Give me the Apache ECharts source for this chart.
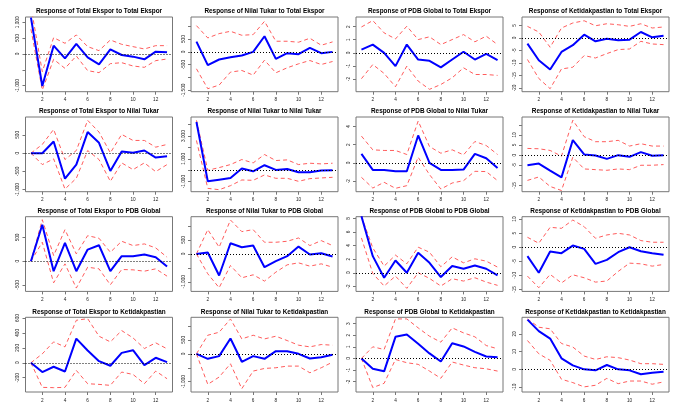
<!DOCTYPE html>
<html><head><meta charset="utf-8">
<script src="https://cdn.jsdelivr.net/npm/echarts@6/dist/echarts.min.js"></script>
<style>html,body{margin:0;padding:0;background:#fff}#c{width:688px;height:405px}</style>
</head><body><div id="c"></div>
<script>
const periods = [1,2,3,4,5,6,7,8,9,10,11,12,13];
const variables = ['Total Ekspor','Nilai Tukar','PDB Global','Ketidakpastian'];
const xTickValues = [2,4,6,8,10,12];

// Row 1: shock = Total Ekspor
const te_te    = [1150,-1010,263,-137,316,-105,-326,147,-32,-84,-168,74,53];
const te_te_hi = [1500,-558,515,337,600,232,105,442,305,232,158,263,263];
const te_te_lo = [780,-1137,-168,-453,-63,-526,-589,-305,-274,-379,-421,-210,-158];
const nt_te    = [403,-519,-299,-208,-143,0,610,-273,-52,-91,156,-52,0];
const nt_te_hi = [1026,545,714,805,649,675,1195,416,416,377,532,260,390];
const nt_te_lo = [-662,-1442,-1299,-792,-727,-909,-325,-818,-623,-468,-338,-494,-377];
const pdb_te    = [0.25,0.63,0,-1.01,0.63,-0.51,-0.61,-1.11,-0.51,0.08,-0.51,-0.08,-0.56];
const pdb_te_hi = [1.97,2.46,1.52,1.06,2.03,1.01,1.22,0.63,1.01,1.39,0.84,1.27,0.63];
const pdb_te_lo = [-1.97,-0.89,-1.57,-2.58,-1.01,-2.15,-2.78,-2.41,-1.9,-1.14,-1.65,-1.65,-1.72];
const ket_te    = [-2.26,-8.9,-12.6,-5.6,-2.9,1.33,-1.33,-0.27,-0.93,-0.66,2.4,0.27,0.93];
const ket_te_hi = [4.65,2.4,-3.7,4.0,6.0,6.9,4.9,5.7,5.3,4.65,5.7,4.0,4.4];
const ket_te_lo = [-8.6,-16.2,-20.3,-12.4,-11.7,-7.05,-8.0,-6.25,-4.65,-4.4,-1.33,-2.4,-2.66];

// Row 2: shock = Nilai Tukar
const te_nt    = [0,0,321,-697,-312,578,284,-486,46,9,73,-119,-83];
const te_nt_hi = [0,239,651,-174,73,899,578,9,514,349,349,165,239];
const te_nt_lo = [0,-312,-156,-982,-688,73,-174,-771,-266,-450,-266,-505,-312];
const nt_nt    = [4235,-970,-823,-676,147,-88,441,29,118,-176,-176,-29,0];
const nt_nt_hi = [4382,0,235,500,941,647,1382,853,912,500,618,559,618];
const nt_nt_lo = [2618,-1588,-1706,-1353,-853,-882,-412,-706,-706,-970,-735,-676,-618];
const pdb_nt    = [0.99,-0.77,-0.77,-0.92,-0.92,3.0,0,-0.77,-0.77,-0.73,0.99,0.51,-0.55];
const pdb_nt_hi = [2.93,1.43,1.36,1.36,0.92,4.58,1.79,1.06,1.43,0.88,2.34,1.9,0.92];
const pdb_nt_lo = [-1.58,-2.75,-2.12,-2.78,-2.49,0.62,-1.28,-2.86,-2.2,-1.94,-0.92,-0.95,-1.94];
const ket_nt    = [-5.0,-4.17,-7.67,-11.0,7.5,0.33,-0.17,-1.83,0,-0.83,1.5,-0.33,0];
const ket_nt_hi = [3.33,3.17,2.33,-0.5,17.3,9.17,6.67,6.67,7.33,4.5,5.67,4.5,4.5];
const ket_nt_lo = [-12.5,-10.8,-15.5,-17.5,-1.0,-6.83,-7.17,-7.5,-6.83,-7.17,-5.0,-5.0,-4.67];

// Row 3: shock = PDB Global
const te_pdb    = [0,769,-210,385,-210,245,336,-210,105,105,140,84,-112];
const te_pdb_hi = [0,874,119,664,154,538,483,189,420,329,364,280,84];
const te_pdb_lo = [0,399,-455,-56,-566,-126,-161,-497,-175,-182,-210,-161,-315];
const nt_pdb    = [0,48,-774,381,238,298,-476,-262,-83,262,-24,24,-95];
const nt_pdb_hi = [0,869,238,1214,798,869,417,417,452,571,298,476,298];
const nt_pdb_lo = [0,-714,-1214,-417,-857,-750,-976,-655,-393,-321,-440,-357,-476];
const pdb_pdb    = [8.3,2.44,-0.73,1.8,0,2.93,1.46,-0.63,0.98,0.59,1.07,0.59,-0.39];
const pdb_pdb_hi = [8.3,3.66,0.98,2.59,1.32,3.76,3.02,0.88,2.34,1.46,2.05,1.71,0.83];
const pdb_pdb_lo = [5.12,-0.1,-1.95,-0.49,-2.29,0,-0.83,-1.95,-0.88,-1.22,-0.73,-1.37,-1.85];
const ket_pdb    = [-3.18,-9.08,-1.53,-2.12,0.59,-0.59,-5.9,-4.48,-1.77,0,-1.42,-2.12,-2.71];
const ket_pdb_hi = [3.54,1.42,7.08,6.72,9.67,7.31,3.18,4.36,4.95,4.36,2.36,1.77,1.77];
const ket_pdb_lo = [-10.26,-14.4,-9.67,-12.7,-9.8,-10.85,-12.4,-12.0,-8.6,-5.66,-5.9,-6.72,-6.13];

// Row 4: shock = Ketidakpastian
const te_ket    = [0,-124,-53,-116,324,164,22,-40,133,169,-31,67,9];
const te_ket_hi = [0,120,280,213,569,591,356,280,431,333,191,267,187];
const te_ket_lo = [0,-329,-333,-329,-102,-280,-289,-302,-124,-156,-280,-111,-213];
const nt_ket    = [0,-179,-83,548,-286,-83,-179,95,95,0,-167,-119,-36];
const nt_ket_hi = [0,667,774,1250,536,667,536,631,476,310,250,333,310];
const nt_ket_lo = [0,-1095,-833,-357,-1250,-619,-524,-500,-440,-440,-679,-500,-298];
const pdb_ket    = [0,-0.89,-1.11,1.86,2.06,1.26,0.43,-0.26,1.31,1.03,0.57,0.17,0.11];
const pdb_ket_hi = [0,1.0,0.77,3.4,3.4,2.63,1.91,1.4,2.63,2.2,1.86,1.11,0.83];
const pdb_ket_lo = [0,-2.51,-2.14,-0.09,-0.37,-0.51,-1.09,-1.71,-0.31,-0.57,-0.8,-0.89,-1.09];
const ket_ket    = [28.1,21.6,17.4,6.2,2.25,0,-0.56,2.44,0,-0.56,-2.8,-1.9,-1.3];
const ket_ket_hi = [28.5,23.8,22.9,14.6,12.6,7.5,5.6,7.1,6.6,5.25,3.2,3.2,2.8];
const ket_ket_lo = [16.3,8.8,5.1,-5.6,-7.5,-9.9,-9.0,-5.1,-8.1,-6.6,-6.6,-8.4,-7.1];

// y-axis ranges, tick values and labelled ticks per panel (row-major)
const yRanges = [
  [-1190,1167],[-1558,1364],[-2.96,2.73],[-21.5,8.4],
  [-1055,991],[-1882,4676],[-3.15,5.02],[-18.1,18.9],
  [-636,937],[-1345,1333],[-2.74,8.24],[-15.7,10.85],
  [-391,609],[-1369,1310],[-2.89,3.54],[-12.8,29.4]
];
const yTickValues = [
  [-1000,-500,0,500,1000],[-1500,-1000,-500,0,500,1000],[-2,-1,0,1,2],[-20,-15,-10,-5,0,5],
  [-1000,-500,0,500],[-1000,0,1000,2000,3000,4000],[-2,0,2,4],[-15,-10,-5,0,5,10,15],
  [-500,0,500],[-1000,-500,0,500,1000],[-2,0,2,4,6,8],[-15,-10,-5,0,5,10],
  [-200,0,200,400,600],[-1000,-500,0,500,1000],[-2,-1,0,1,2,3],[-10,0,10,20]
];
const yTickLabels = [
  [-1000,0,500,1000],[-1500,-500,0,500],[-2,-1,0,1,2],[-20,-15,-10,-5,0,5],
  [-1000,-500,0,500],[-1000,1000,3000],[-2,0,2,4],[-15,-5,0,5,10],
  [-500,0,500],[-1000,0,500],[-2,0,2,4,6,8],[-15,-10,-5,0,5,10],
  [-200,0,200,400,600],[-1000,0,500],[-2,-1,0,1,2,3],[-10,0,10,20]
];

const responses = [
  [te_te,te_te_hi,te_te_lo],[nt_te,nt_te_hi,nt_te_lo],[pdb_te,pdb_te_hi,pdb_te_lo],[ket_te,ket_te_hi,ket_te_lo],
  [te_nt,te_nt_hi,te_nt_lo],[nt_nt,nt_nt_hi,nt_nt_lo],[pdb_nt,pdb_nt_hi,pdb_nt_lo],[ket_nt,ket_nt_hi,ket_nt_lo],
  [te_pdb,te_pdb_hi,te_pdb_lo],[nt_pdb,nt_pdb_hi,nt_pdb_lo],[pdb_pdb,pdb_pdb_hi,pdb_pdb_lo],[ket_pdb,ket_pdb_hi,ket_pdb_lo],
  [te_ket,te_ket_hi,te_ket_lo],[nt_ket,nt_ket_hi,nt_ket_lo],[pdb_ket,pdb_ket_hi,pdb_ket_lo],[ket_ket,ket_ket_hi,ket_ket_lo]
];

// layout
const colLeft = [25.5, 191, 356, 522];
const rowTop = [17, 117, 216.7, 317.3];
const boxW = 147, boxH = 74.7;
const FONT = 'Liberation Sans, Arial, sans-serif';

const grids = [], xAxes = [], yAxes = [], titles = [], series = [];
for (let r = 0; r < 4; r++) {
  for (let c = 0; c < 4; c++) {
    const i = r * 4 + c;
    grids.push({left: colLeft[c], top: rowTop[r], width: boxW, height: boxH, show: true,
      borderColor: '#777', borderWidth: 1, backgroundColor: 'transparent', containLabel: false, outerBoundsMode: 'none'});
    titles.push({text: 'Response of ' + variables[c] + ' to ' + variables[r],
      left: colLeft[c] + boxW / 2, top: rowTop[r] - 8.5, textAlign: 'center', padding: 0,
      textStyle: {fontSize: 6.4, fontWeight: 'bold', fontFamily: FONT, color: '#000'}});
    xAxes.push({gridIndex: i, type: 'value', min: 0.52, max: 13.48,
      axisLine: {show: false, onZero: false}, splitLine: {show: false},
      axisTick: {show: true, customValues: xTickValues, length: 3, lineStyle: {color: '#777', width: 1}},
      axisLabel: {customValues: xTickValues, fontSize: 4.7, color: '#222', margin: 6, fontFamily: FONT}});
    yAxes.push({gridIndex: i, type: 'value', min: yRanges[i][0], max: yRanges[i][1],
      axisLine: {show: false, onZero: false}, splitLine: {show: false},
      axisTick: {show: true, customValues: yTickValues[i], length: 3, lineStyle: {color: '#777', width: 1}},
      axisLabel: {customValues: yTickLabels[i], rotate: 90, fontSize: 4.7, color: '#222', margin: 5, fontFamily: FONT}});
    const [resp, hi, lo] = responses[i];
    const mk = arr => periods.map((p, j) => [p, arr[j]]);
    [hi, lo].forEach(arr => series.push({type: 'line', xAxisIndex: i, yAxisIndex: i, data: mk(arr),
      symbol: 'none', clip: true, silent: true,
      lineStyle: {color: '#ff5c5c', width: 1, type: [4, 3]}}));
    series.push({type: 'line', xAxisIndex: i, yAxisIndex: i, data: mk(resp),
      symbol: 'none', clip: true, silent: true, z: 3,
      lineStyle: {color: '#0000ff', width: 2},
      markLine: {silent: true, symbol: 'none', label: {show: false}, animation: false,
        lineStyle: {type: [1, 2], color: '#000', width: 1}, data: [{yAxis: 0}]}});
  }
}

const chart = echarts.init(document.getElementById('c'), null, {renderer: 'canvas'});
chart.setOption({animation: false, backgroundColor: '#fff', title: titles, grid: grids,
  xAxis: xAxes, yAxis: yAxes, series: series});
</script></body></html>
